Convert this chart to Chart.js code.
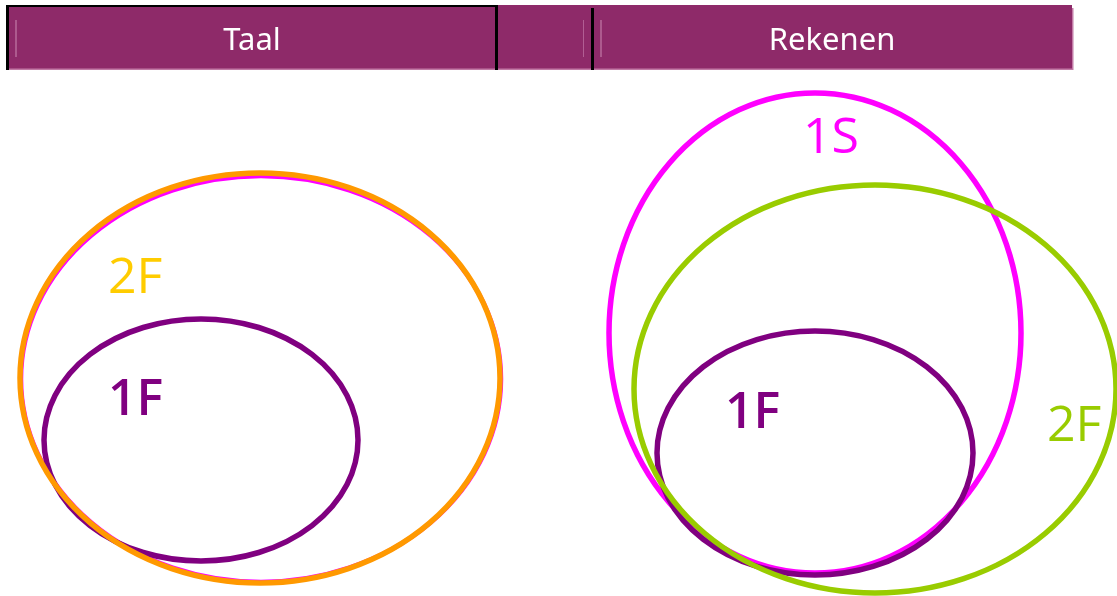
<!DOCTYPE html>
<html>
<head>
<meta charset="utf-8">
<script src="https://cdn.jsdelivr.net/npm/chart.js@4/dist/chart.umd.min.js"></script>
<style>
  html, body { margin: 0; padding: 0; background: #ffffff; overflow: hidden; }
  #wrap { position: relative; width: 1117px; height: 596px; }
</style>
</head>
<body>
<div id="wrap"><canvas id="c" width="1117" height="596"></canvas></div>
<script>
// ---- data (diagram units) ----
const panelTitles = ['Taal', 'Rekenen'];
const panelCenterX = [252, 832];

const ellipseNames = ['Taal 1S', 'Taal 1F', 'Taal 2F', 'Rekenen 1S', 'Rekenen 1F', 'Rekenen 2F'];
const centerX = [261, 201, 260, 815, 815, 875];
const centerY = [379, 440, 378, 333, 453, 389];
const radiusX = [240, 157, 240, 206, 158, 241];
const radiusY = [203, 121, 205, 240, 122, 204];

const labelText = ['2F', '1F', '1S', '1F', '2F'];
const labelX = [108, 108, 803, 725, 1047];
const labelY = [293, 415, 153, 428, 441];

// ---- styles ----
const ellipseColors = ['#FF00FF', '#800080', '#FF9900', '#FF00FF', '#800080', '#99CC00'];
const ellipseWidths = [4.5, 5.5, 5.5, 5.5, 5.5, 5.5];
const labelColors = ['#FFCC00', '#800080', '#FF00FF', '#800080', '#99CC00'];
const labelWeight = ['400', '600', '400', '600', '400'];

const datasets = ellipseNames.map((n, i) => ({
  label: n,
  data: [{ x: centerX[i], y: centerY[i] }],
  rx: radiusX[i],
  ry: radiusY[i],
  borderColor: ellipseColors[i],
  backgroundColor: ellipseColors[i],
  ellipseWidth: ellipseWidths[i],
  pointRadius: 0,
  pointHoverRadius: 0
}));

const headerPlugin = {
  id: 'header',
  beforeDraw(chart) {
    const ctx = chart.ctx;
    ctx.save();
    ctx.fillStyle = '#ffffff';
    ctx.fillRect(0, 0, chart.width, chart.height);
    // bar
    ctx.fillStyle = '#8E2A69';
    ctx.fillRect(6, 5, 1066, 64);
    ctx.fillStyle = '#C27AA6';
    ctx.fillRect(6, 68.5, 1066, 1.5);
    ctx.fillRect(1072, 8, 1.5, 62);
    // faint separators
    ctx.fillStyle = 'rgba(230,180,210,0.7)';
    ctx.fillRect(15.5, 20, 1, 37);
    ctx.fillRect(600.5, 20, 1, 37);
    ctx.fillStyle = 'rgba(200,130,175,0.6)';
    ctx.fillRect(583, 20, 1, 37);
    // black borders
    ctx.fillStyle = '#000000';
    ctx.fillRect(6, 5, 3, 65);
    ctx.fillRect(6, 5, 492, 2);
    ctx.fillRect(495, 5, 3, 65);
    ctx.fillRect(591, 8, 3, 62);
    // titles
    ctx.fillStyle = '#ffffff';
    ctx.font = '400 31px "Noto Sans", "Open Sans", sans-serif';
    ctx.textAlign = 'center';
    ctx.textBaseline = 'alphabetic';
    panelTitles.forEach((t, i) => ctx.fillText(t, panelCenterX[i], 50));
    ctx.restore();
  }
};

const ellipsePlugin = {
  id: 'ellipses',
  afterDatasetsDraw(chart) {
    const ctx = chart.ctx;
    const xs = chart.scales.x, ys = chart.scales.y;
    ctx.save();
    chart.data.datasets.forEach(ds => {
      const p = ds.data[0];
      const px = xs.getPixelForValue(p.x);
      const py = ys.getPixelForValue(p.y);
      const rpx = Math.abs(xs.getPixelForValue(p.x + ds.rx) - px);
      const rpy = Math.abs(ys.getPixelForValue(p.y + ds.ry) - py);
      ctx.beginPath();
      ctx.ellipse(px, py, rpx, rpy, 0, 0, Math.PI * 2);
      ctx.strokeStyle = ds.borderColor;
      ctx.lineWidth = ds.ellipseWidth;
      ctx.stroke();
    });
    // labels
    ctx.textAlign = 'left';
    ctx.textBaseline = 'alphabetic';
    labelText.forEach((t, i) => {
      ctx.font = labelWeight[i] + ' 50px "Open Sans", "Noto Sans", sans-serif';
      ctx.fillStyle = labelColors[i];
      ctx.fillText(t, xs.getPixelForValue(labelX[i]), ys.getPixelForValue(labelY[i]));
    });
    ctx.restore();
  }
};

new Chart(document.getElementById('c'), {
  type: 'scatter',
  data: { datasets },
  options: {
    responsive: false,
    animation: false,
    devicePixelRatio: 1,
    layout: { padding: 0 },
    events: [],
    plugins: { legend: { display: false }, tooltip: { enabled: false }, title: { display: false } },
    scales: {
      x: { type: 'linear', min: 0, max: 1117, display: false },
      y: { type: 'linear', min: 0, max: 596, reverse: true, display: false }
    }
  },
  plugins: [headerPlugin, ellipsePlugin]
});
</script>
</body>
</html>
